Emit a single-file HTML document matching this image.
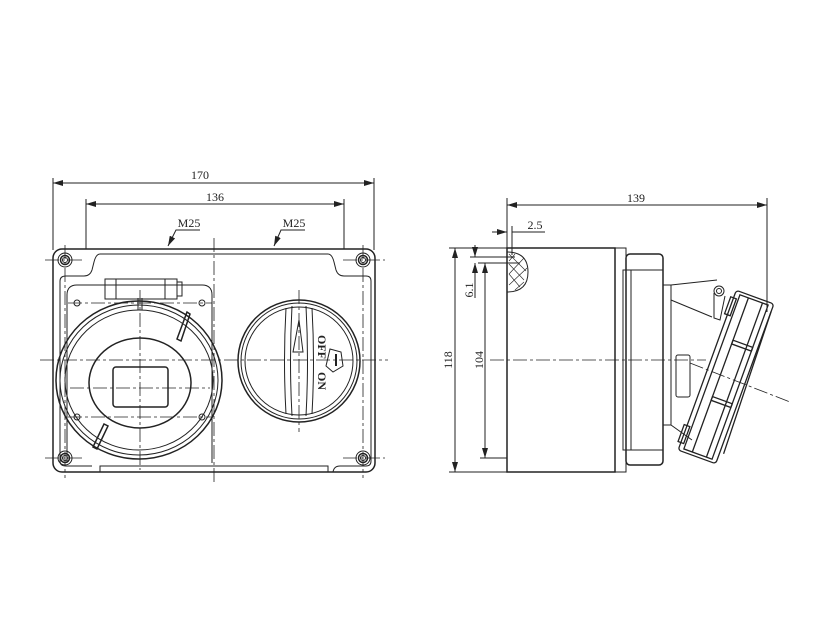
<!DOCTYPE html>
<html><head><meta charset="utf-8"><style>
html,body{margin:0;padding:0;background:#fff;}
svg{display:block}
text{font-family:"Liberation Serif",serif;font-size:12px;fill:#222}
</style></head><body>
<svg width="825" height="625" viewBox="0 0 825 625" xmlns="http://www.w3.org/2000/svg">
<defs>
<marker id="a" viewBox="0 0 10 6" refX="10" refY="3" markerWidth="10" markerHeight="6" orient="auto-start-reverse"><path d="M0,0 L10,3 L0,6 z" fill="#222"/></marker>
</defs>
<g fill="none" stroke="#222" stroke-width="1">
<line x1="53" y1="178" x2="53" y2="250"/>
<line x1="374" y1="178" x2="374" y2="250"/>
<line x1="53" y1="183" x2="374" y2="183" marker-start="url(#a)" marker-end="url(#a)"/>
<line x1="86" y1="199" x2="86" y2="249"/>
<line x1="344" y1="199" x2="344" y2="249"/>
<line x1="86" y1="204" x2="344" y2="204" marker-start="url(#a)" marker-end="url(#a)"/>
<polyline points="200,230 176,230 168,246" marker-end="url(#a)"/>
<polyline points="305,230 281,230 274,246" marker-end="url(#a)"/>
<rect x="53" y="249" width="322" height="223" rx="9" stroke-width="1.5"/>
<path d="M100,254 H328 Q332,254 334,262 L336,270 Q338,276 344,276 H366 Q371,276 371,281 V461 Q371,466 366,466 H340 Q334,466 333,472" />
<path d="M100,254 Q96,254 94,262 L92,270 Q90,276 84,276 H66 Q60,276 60,281 V461 Q60,466 66,466 H92"/>
<path d="M100,472 V466 H328 V472"/>
<g>
<circle cx="65" cy="260" r="7"/><circle cx="65" cy="260" r="4.5" stroke-width="1.5"/><circle cx="65" cy="260" r="2.5"/>
<circle cx="363" cy="260" r="7"/><circle cx="363" cy="260" r="4.5" stroke-width="1.5"/><circle cx="363" cy="260" r="2.5"/>
<circle cx="65" cy="458" r="7"/><circle cx="65" cy="458" r="4.5" stroke-width="1.5"/><circle cx="65" cy="458" r="2.5"/>
<circle cx="363" cy="458" r="7"/><circle cx="363" cy="458" r="4.5" stroke-width="1.5"/><circle cx="363" cy="458" r="2.5"/>
</g>
<path d="M67,463 V295 Q67,285 77,285 H202 Q212,285 212,295 V463"/>
<circle cx="77" cy="303" r="3"/><circle cx="202" cy="303" r="3"/><circle cx="77" cy="417" r="3"/><circle cx="202" cy="417" r="3"/>
<rect x="105" y="279" width="72" height="20"/>
<line x1="116" y1="279" x2="116" y2="299"/><line x1="165" y1="279" x2="165" y2="299"/>
<rect x="177" y="282" width="5" height="14"/>
<ellipse cx="139" cy="380" rx="83" ry="79" stroke-width="1.5"/>
<ellipse cx="139" cy="380" rx="79" ry="75"/>
<ellipse cx="139" cy="380" rx="74" ry="70"/>
<ellipse cx="140" cy="383" rx="51" ry="45" stroke-width="1.5"/>
<rect x="113" y="367" width="55" height="40" rx="3" stroke-width="1.5"/>
<path d="M177,339 L187,312 L190,314 L181,341 Z" stroke-width="1.5"/>
<path d="M93,447 L104,424 L108,426 L97,449 Z" stroke-width="1.5"/>
<path d="M138,298 L138,310 M142,298 L142,310"/>
<circle cx="299" cy="361" r="61" stroke-width="1.5"/>
<circle cx="299" cy="361" r="58"/>
<circle cx="299" cy="361" r="54"/>
<path d="M286,308 Q283,361 286,414 M292,306 Q289,361 292,416"/>
<path d="M306,306 Q309,361 306,416 M312,308 Q315,361 312,414"/>
<polygon points="299,320 293,352 303,352"/>
<polygon points="330,349 341,352 343,366 333,372 326,366"/>
<line x1="336" y1="354" x2="336" y2="366" stroke-width="2"/>
<g stroke-dasharray="14,3,3,3" stroke-width="0.8">
<line x1="214" y1="238" x2="214" y2="482"/>
<line x1="40" y1="360" x2="388" y2="360"/>
<line x1="299" y1="290" x2="299" y2="432"/>
<line x1="140" y1="290" x2="140" y2="470"/>
<line x1="70" y1="388" x2="210" y2="388"/>
<line x1="65" y1="245" x2="65" y2="478"/><line x1="363" y1="245" x2="363" y2="478"/>
<line x1="45" y1="260" x2="85" y2="260"/><line x1="343" y1="260" x2="385" y2="260"/>
<line x1="45" y1="458" x2="85" y2="458"/><line x1="343" y1="458" x2="385" y2="458"/>
<line x1="68" y1="303" x2="212" y2="303"/><line x1="68" y1="417" x2="212" y2="417"/>
</g>

<line x1="507" y1="198" x2="507" y2="248"/>
<line x1="767" y1="198" x2="767" y2="312"/>
<line x1="507" y1="205" x2="767" y2="205" marker-start="url(#a)" marker-end="url(#a)"/>
<line x1="492" y1="232" x2="507" y2="232" marker-end="url(#a)"/>
<line x1="512" y1="232" x2="545" y2="232"/>
<line x1="512" y1="226" x2="512" y2="255"/>
<line x1="449" y1="248" x2="507" y2="248"/>
<line x1="449" y1="472" x2="507" y2="472"/>
<line x1="455" y1="248" x2="455" y2="472" marker-start="url(#a)" marker-end="url(#a)"/>
<line x1="478" y1="263" x2="520" y2="263"/>
<line x1="480" y1="458" x2="507" y2="458"/>
<line x1="485" y1="263" x2="485" y2="458" marker-start="url(#a)" marker-end="url(#a)"/>
<line x1="470" y1="257" x2="515" y2="257"/>
<line x1="475" y1="245" x2="475" y2="257" marker-end="url(#a)"/>
<line x1="475" y1="275" x2="475" y2="263" marker-end="url(#a)"/>
<line x1="475" y1="263" x2="475" y2="298"/>
<rect x="507" y="248" width="108" height="224" stroke-width="1.5"/>
<path d="M507,252 Q528,252 528,272 Q528,292 507,292" />
<path d="M509,254 L526,271 M509,264 L524,280 M509,274 L520,287 M515,254 L509,261 M524,258 L509,274 M527,268 L509,285 M524,282 L515,290" stroke-width="0.6"/>
<path d="M615,248 H626 V472 H615"/>
<rect x="626" y="254" width="37" height="211" rx="4" stroke-width="1.5"/>
<rect x="623" y="270" width="40" height="180"/>
<line x1="631" y1="270" x2="631" y2="450"/>
<rect x="663" y="285" width="8" height="140"/>
<rect x="676" y="355" width="14" height="42" rx="2"/>
<path d="M671,285 L717,280 M671,300 L712,317 M671,425 L692,440"/>
<circle cx="719" cy="291" r="5"/><circle cx="719" cy="291" r="2.5"/>
<path d="M714,293 L714,318 L720,320 L725,296"/>
<g transform="rotate(20 726 377)" stroke-width="1.3">
<rect x="711" y="295" width="30" height="164"/>
<rect x="706" y="292" width="40" height="170" rx="3"/>
<line x1="720" y1="295" x2="720" y2="459"/>
<line x1="735" y1="295" x2="735" y2="459"/>
<rect x="720" y="340" width="21" height="4"/>
<rect x="720" y="400" width="21" height="4"/>
<rect x="703" y="300" width="6" height="18"/>
<rect x="703" y="436" width="6" height="18"/>
<line x1="746" y1="300" x2="750" y2="450"/>
</g>
<g stroke-dasharray="14,3,3,3" stroke-width="0.8">
<line x1="490" y1="360" x2="706" y2="360"/>
<line x1="690" y1="363" x2="790" y2="402"/>
</g>
</g>
<text x="200" y="179" text-anchor="middle">170</text>
<text x="215" y="201" text-anchor="middle">136</text>
<text x="189" y="227" text-anchor="middle">M25</text>
<text x="294" y="227" text-anchor="middle">M25</text>
<text x="636" y="202" text-anchor="middle">139</text>
<text x="535" y="229" text-anchor="middle">2.5</text>
<text transform="translate(452,360) rotate(-90)" text-anchor="middle">118</text>
<text transform="translate(483,360) rotate(-90)" text-anchor="middle">104</text>
<text transform="translate(473,290) rotate(-90)" text-anchor="middle">6.1</text>
<text transform="translate(318,335) rotate(90)" font-size="9" font-weight="bold">OFF</text>
<text transform="translate(318,372) rotate(90)" font-size="9" font-weight="bold">ON</text>
</svg>
</body></html>
